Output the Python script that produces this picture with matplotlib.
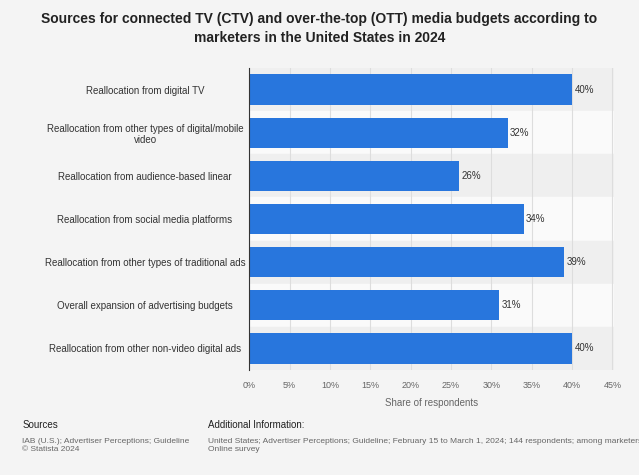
import matplotlib.pyplot as plt

categories = [
    "Reallocation from digital TV",
    "Reallocation from other types of digital/mobile\nvideo",
    "Reallocation from audience-based linear",
    "Reallocation from social media platforms",
    "Reallocation from other types of traditional ads",
    "Overall expansion of advertising budgets",
    "Reallocation from other non-video digital ads",
]
values = [40, 32, 26, 34, 39, 31, 40]
ticks = [0, 5, 10, 15, 20, 25, 30, 35, 40, 45]

plt.rcParams['font.family'] = ['Liberation Sans', 'DejaVu Sans']
fig = plt.figure(figsize=(6.39, 4.75), dpi=100, facecolor='#f4f4f4')
ax = fig.add_axes([0.39, 0.221, 0.571, 0.636])
ax.set_facecolor('#f4f4f4')

n = len(categories)
ys = list(range(n))
for i in ys:
    ax.axhspan(i - 0.5, i + 0.5, color='#efefef' if i % 2 == 0 else '#fafafa', zorder=0)
ax.barh(ys, values, height=0.7, color='#2876dd', zorder=3)
for y, v in zip(ys, values):
    ax.text(v + 0.3, y, f"{v}%", va='center', ha='left', fontsize=7, color='#333333')

ax.set_ylim(n - 0.5, -0.5)
ax.set_xlim(0, 45.2)
ax.set_yticks(ys)
ax.set_yticklabels(categories, fontsize=7, color='#333333', ha='center')
ax.tick_params(axis='y', length=0, pad=75)
ax.set_xticks(ticks)
ax.set_xticklabels([f"{t}%" for t in ticks], fontsize=6.5, color='#666666')
ax.tick_params(axis='x', length=0, pad=8)
ax.grid(axis='x', color='#dddddd', linewidth=0.8, zorder=1)
for s in ['top', 'right', 'bottom']:
    ax.spines[s].set_visible(False)
ax.spines['left'].set_color('#333333')
ax.spines['left'].set_zorder(4)
ax.set_xlabel("Share of respondents", fontsize=7, color='#666666', labelpad=6)

fig.text(0.5, 0.975, "Sources for connected TV (CTV) and over-the-top (OTT) media budgets according to\nmarketers in the United States in 2024",
         ha='center', va='top', fontsize=10, fontweight='bold', color='#222222', linespacing=1.5)

fig.text(0.035, 0.098, "Sources", fontsize=7, color='#222222')
fig.text(0.035, 0.05, "IAB (U.S.); Advertiser Perceptions; Guideline\n© Statista 2024", fontsize=6, color='#666666', linespacing=1.3)
fig.text(0.325, 0.098, "Additional Information:", fontsize=7, color='#222222')
fig.text(0.325, 0.05, "United States; Advertiser Perceptions; Guideline; February 15 to March 1, 2024; 144 respondents; among marketers\nOnline survey",
         fontsize=6, color='#666666', linespacing=1.3)

fig.savefig("out.png", dpi=100, facecolor=fig.get_facecolor())
